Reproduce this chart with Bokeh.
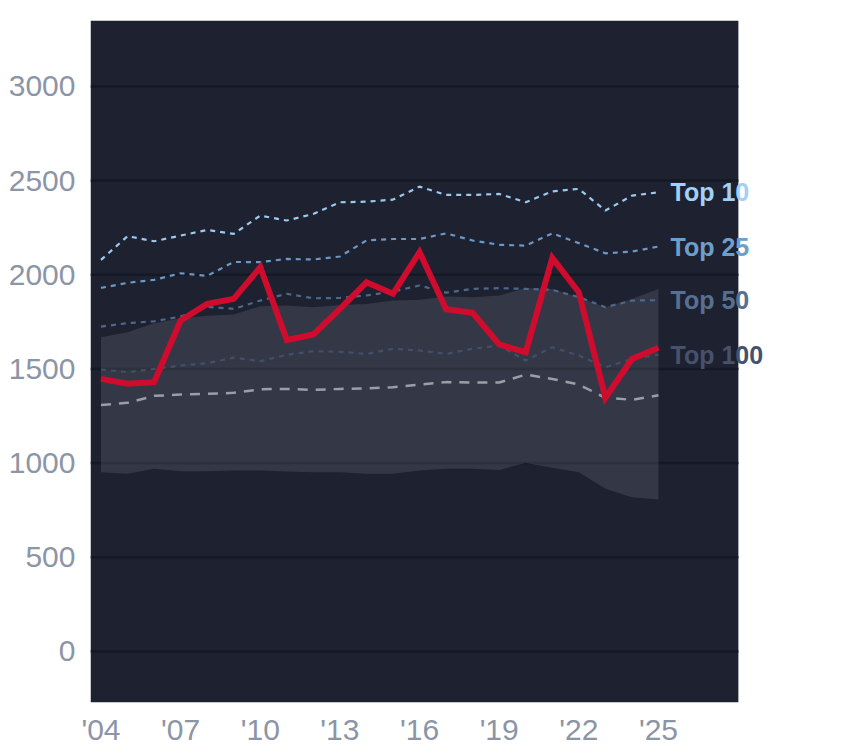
from bokeh.plotting import figure
from bokeh.models import FixedTicker, Label, Range1d, BoxAnnotation
from bokeh.embed import file_html
from bokeh.resources import INLINE

years = list(range(2004, 2026))
team = [1447, 1421, 1430, 1757, 1845, 1872, 2040, 1654, 1683, 1819, 1960, 1899,
        2120, 1817, 1798, 1630, 1589, 2090, 1907, 1347, 1553, 1612]
top10 = [2079, 2205, 2178, 2208, 2238, 2217, 2314, 2288, 2323, 2385, 2388, 2399,
         2468, 2424, 2424, 2429, 2385, 2443, 2456, 2341, 2420, 2438]
top25 = [1930, 1957, 1973, 2008, 1994, 2068, 2067, 2084, 2081, 2097, 2182, 2190,
         2190, 2220, 2182, 2159, 2155, 2220, 2168, 2114, 2123, 2150]
top50 = [1725, 1743, 1753, 1778, 1830, 1819, 1863, 1899, 1875, 1877, 1890, 1911,
         1943, 1905, 1925, 1929, 1925, 1920, 1881, 1828, 1863, 1865]
top100 = [1497, 1483, 1500, 1518, 1530, 1560, 1541, 1575, 1594, 1591, 1580, 1607,
          1598, 1580, 1607, 1624, 1545, 1615, 1571, 1509, 1553, 1576]
median = [1309, 1320, 1357, 1364, 1368, 1373, 1392, 1394, 1389, 1394, 1396, 1403,
          1417, 1430, 1428, 1428, 1470, 1447, 1417, 1347, 1336, 1360]
band_hi = [1668, 1695, 1743, 1769, 1783, 1789, 1833, 1837, 1828, 1840, 1845, 1863,
           1867, 1884, 1881, 1890, 1930, 1925, 1881, 1828, 1872, 1925]
band_lo = [952, 943, 970, 957, 957, 961, 961, 955, 952, 952, 943, 943,
           961, 970, 970, 964, 1001, 975, 952, 864, 819, 807]

x_ticks = [2004, 2007, 2010, 2013, 2016, 2019, 2022, 2025]
x_tick_labels = ["'04", "'07", "'10", "'13", "'16", "'19", "'22", "'25"]
y_ticks = [0, 500, 1000, 1500, 2000, 2500, 3000]
x_start, x_dark_end, x_end = 2003.605, 2028.01, 2031.48

tier_names = ["Top 10", "Top 25", "Top 50", "Top 100"]
tier_colors = ["#a3d0f4", "#6e9fcc", "#58708f", "#46526b"]
line_colors = ["#9ccaee", "#6b98c4", "#4e6889", "#424f68"]

p = figure(frame_width=740, frame_height=682, output_backend="svg",
           toolbar_location=None, x_range=Range1d(x_start, x_end),
           y_range=Range1d(-271, 3350), min_border_left=90, min_border_top=20,
           min_border_right=4, min_border_bottom=30,
           background_fill_color="white", border_fill_color="white")
p.outline_line_color = None

# dark plotting panel
p.add_layout(BoxAnnotation(right=x_dark_end, fill_color="#1d2130", fill_alpha=1.0,
                           line_color=None, level="image"))
p.xgrid.grid_line_color = None
p.ygrid.grid_line_color = None
# horizontal grid lines at the y ticks, limited to the dark panel
p.segment(x0=[x_start] * len(y_ticks), x1=[x_dark_end] * len(y_ticks),
          y0=y_ticks, y1=y_ticks, line_color="#151924", line_width=2.5)

p.varea(x=years, y1=band_lo, y2=band_hi, fill_color="#8a90a0", fill_alpha=0.2)

p.line(years, median, line_color="#9a9ea8", line_width=2.5, line_dash="10 8")
tiers = [top10, top25, top50, top100]
for vals, col in zip(tiers[::-1], line_colors[::-1]):
    p.line(years, vals, line_color=col, line_width=2.2, line_dash="5 5")

p.line(years, team, line_color="#d00c2e", line_width=6, line_join="miter")

for vals, name, col in zip(tiers, tier_names, tier_colors):
    p.add_layout(Label(x=years[-1], y=vals[-1], text=name, x_offset=12,
                       text_color=col, text_font="Liberation Sans", text_font_size="25px",
                       text_font_style="bold", text_baseline="middle", text_align="left"))

p.xaxis.ticker = FixedTicker(ticks=x_ticks)
p.xaxis.major_label_overrides = {t: l for t, l in zip(x_ticks, x_tick_labels)}
p.yaxis.ticker = FixedTicker(ticks=y_ticks)
for ax in (p.xaxis, p.yaxis):
    ax.axis_line_color = None
    ax.major_tick_line_color = None
    ax.minor_tick_line_color = None
    ax.major_tick_out = 0
    ax.major_tick_in = 0
    ax.major_label_text_color = "#8c95a6"
    ax.major_label_text_font = "Liberation Sans"
    ax.major_label_text_font_size = "30px"
p.yaxis.major_label_standoff = 15
p.xaxis.major_label_standoff = 10

open("out.html", "w").write(file_html(p, INLINE))
